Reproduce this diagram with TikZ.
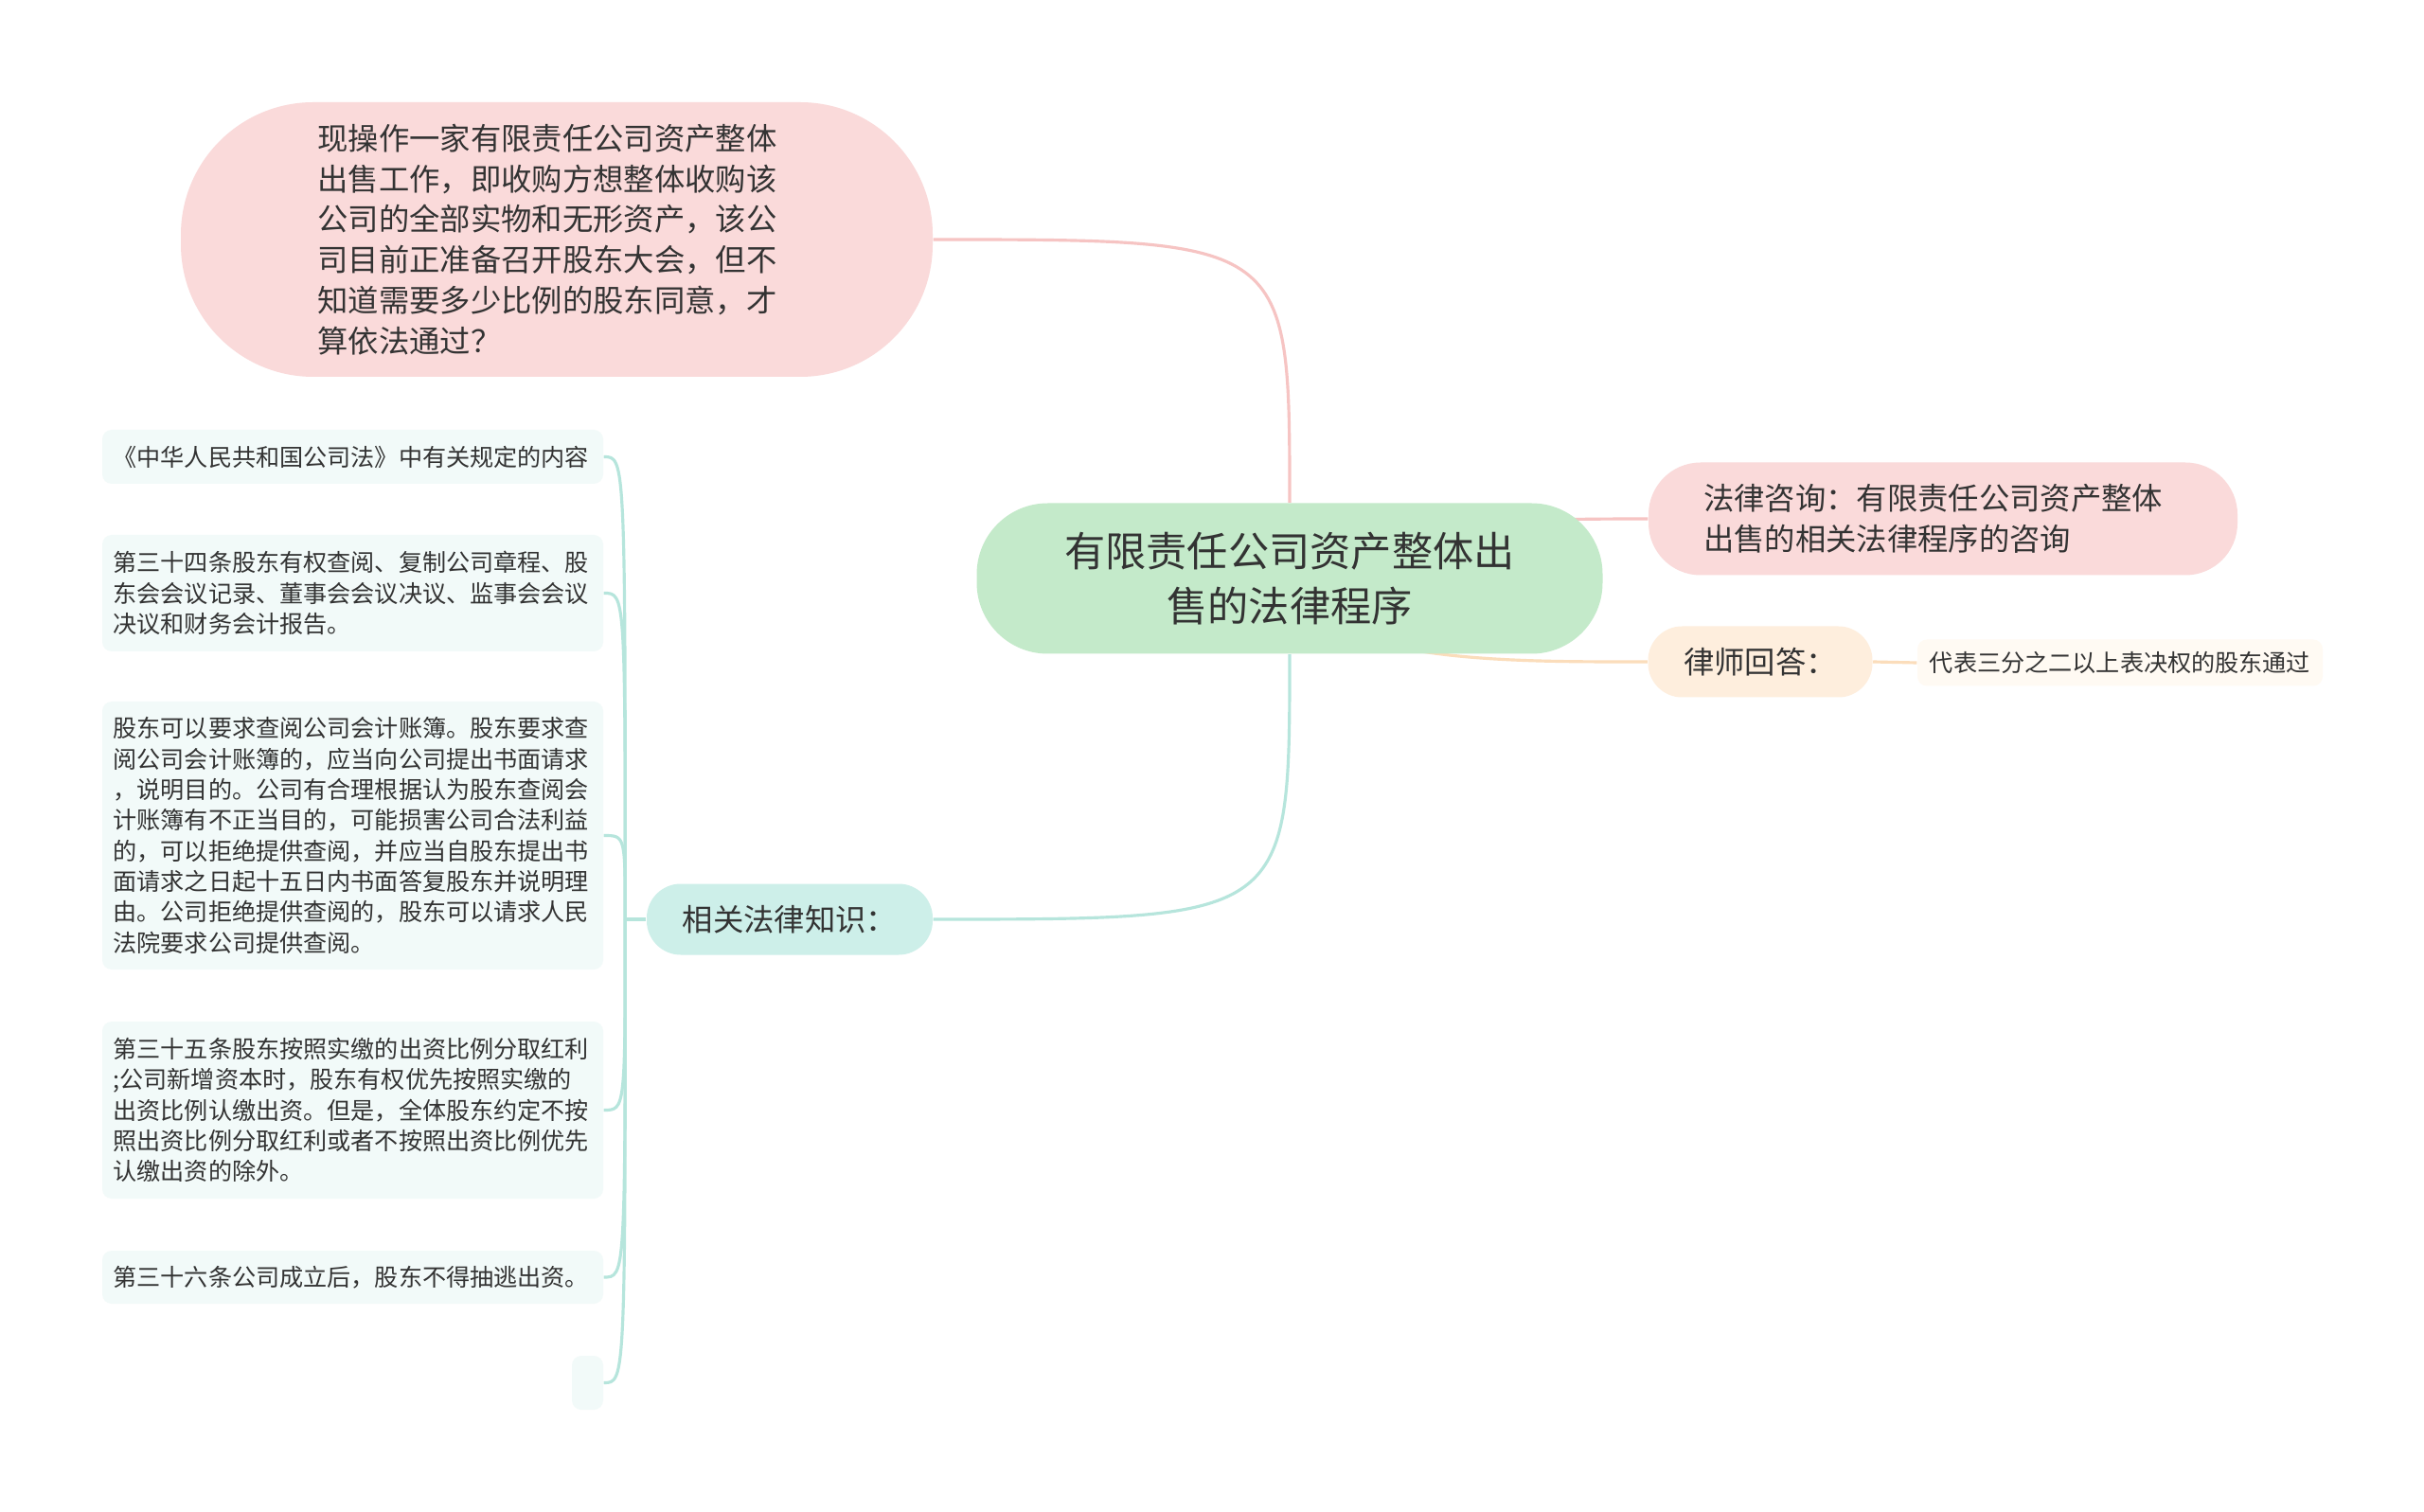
\documentclass[tikz,border=0pt]{standalone}
\usepackage{fontspec}
\newfontfamily\cjk{Noto Sans CJK SC}
\usetikzlibrary{backgrounds,positioning}

\definecolor{ink}{HTML}{333333}
\definecolor{rootgreen}{HTML}{C4EACA}
\definecolor{askpink}{HTML}{FADADA}
\definecolor{peach}{HTML}{FEEEDD}
\definecolor{cream}{HTML}{FFFAF3}
\definecolor{relteal}{HTML}{CDEFE9}
\definecolor{leafteal}{HTML}{F2FAF9}
\definecolor{pinkline}{HTML}{F6C4C3}
\definecolor{peachline}{HTML}{FBDDBB}
\definecolor{tealline}{HTML}{B6E5DC}

\begin{document}
\begin{tikzpicture}[font=\cjk,every node/.style={text=ink},
  root/.style={fill=rootgreen,rounded corners=.75cm,minimum width=6.61cm,minimum height=1.59cm,
    inner sep=0pt,align=center,font={\cjk\fontsize{12.3}{16.3}\selectfont}},
  ask/.style={fill=askpink,rounded corners=1.4cm,minimum width=7.94cm,minimum height=2.9cm,
    inner sep=0pt,text width=5.05cm,align=left,font={\cjk\fontsize{9.2}{12.2}\selectfont}},
  sub/.style={rounded corners=.36cm,minimum height=.75cm,inner sep=0pt,
    font={\cjk\fontsize{9.2}{12.2}\selectfont}},
  leaf/.style={fill=leafteal,rounded corners=.1cm,text width=5.06cm,inner xsep=.115cm,
    align=left,font={\cjk\fontsize{7.15}{9.2}\selectfont}},
  link/.style={line width=.9pt}]

\useasboundingbox (0,0) rectangle (25.6,-15.97);

\node[root] (root) at (13.62,-6.11) {有限责任公司资产整体出\\售的法律程序};

\node[ask] (ask) at (5.88,-2.53) {现操作一家有限责任公司资产整体\\出售工作，即收购方想整体收购该\\公司的全部实物和无形资产，该公\\司目前正准备召开股东大会，但不\\知道需要多少比例的股东同意，才\\算依法通过？};

\node[sub,fill=askpink,minimum width=6.22cm,minimum height=1.19cm,rounded corners=.55cm,
  text width=5.06cm,align=left] (law) at (20.52,-5.48) {法律咨询：有限责任公司资产整体\\出售的相关法律程序的咨询};
\node[sub,fill=peach,minimum width=2.37cm] (lawyer) at (18.59,-6.99) {律师回答：};
\node[fill=cream,rounded corners=.1cm,minimum width=4.28cm,minimum height=.49cm,inner sep=0pt,
  font={\cjk\fontsize{7.15}{9.2}\selectfont}] (reply) at (22.39,-7.00) {代表三分之二以上表决权的股东通过};

\node[sub,fill=relteal,minimum width=3.02cm] (rel) at (8.34,-9.71) {相关法律知识：};

% leaves of the law branch
\node[leaf,minimum height=.57cm] (l1) at (3.725,-4.825) {《中华人民共和国公司法》中有关规定的内容};
\node[leaf,minimum height=1.23cm] (l2) at (3.725,-6.265) {第三十四条股东有权查阅、复制公司章程、股\\东会会议记录、董事会会议决议、监事会会议\\决议和财务会计报告。};
\node[leaf,minimum height=2.83cm] (l3) at (3.725,-8.825) {股东可以要求查阅公司会计账簿。股东要求查\\阅公司会计账簿的，应当向公司提出书面请求\\，说明目的。公司有合理根据认为股东查阅会\\计账簿有不正当目的，可能损害公司合法利益\\的，可以拒绝提供查阅，并应当自股东提出书\\面请求之日起十五日内书面答复股东并说明理\\由。公司拒绝提供查阅的，股东可以请求人民\\法院要求公司提供查阅。};
\node[leaf,minimum height=1.87cm] (l4) at (3.725,-11.725) {第三十五条股东按照实缴的出资比例分取红利\\;公司新增资本时，股东有权优先按照实缴的\\出资比例认缴出资。但是，全体股东约定不按\\照出资比例分取红利或者不按照出资比例优先\\认缴出资的除外。};
\node[leaf,minimum height=.56cm] (l5) at (3.725,-13.49) {第三十六条公司成立后，股东不得抽逃出资。};
\node[fill=leafteal,rounded corners=.1cm,minimum width=.33cm,minimum height=.57cm,inner sep=0pt] (l6) at (6.205,-14.605) {};

\begin{scope}[on background layer]
\fill[white] (0,0) rectangle (25.6,-15.97);
\draw[link,pinkline] (ask.east) .. controls (root.north |- ask.east) .. (root.north);
\draw[link,pinkline] (root.center) .. controls +(.3,.6) and +(-1.5,0) .. (law.west);
\draw[link,peachline] (root.center) .. controls +(.3,-.9) and +(-1.5,0) .. (lawyer.west);
\draw[link,peachline] (lawyer.east) -- (reply.west);
\draw[link,tealline] (root.south) .. controls (root.south |- rel.east) .. (rel.east);
\coordinate[left=2.2mm of rel.west] (j);
\draw[link,tealline] (rel.west) -- (j);
\foreach \l in {l1,l2,l3,l4,l5,l6}
  \draw[link,tealline] (j) .. controls (j |- \l.east) .. (\l.east);
\end{scope}

\end{tikzpicture}
\end{document}
